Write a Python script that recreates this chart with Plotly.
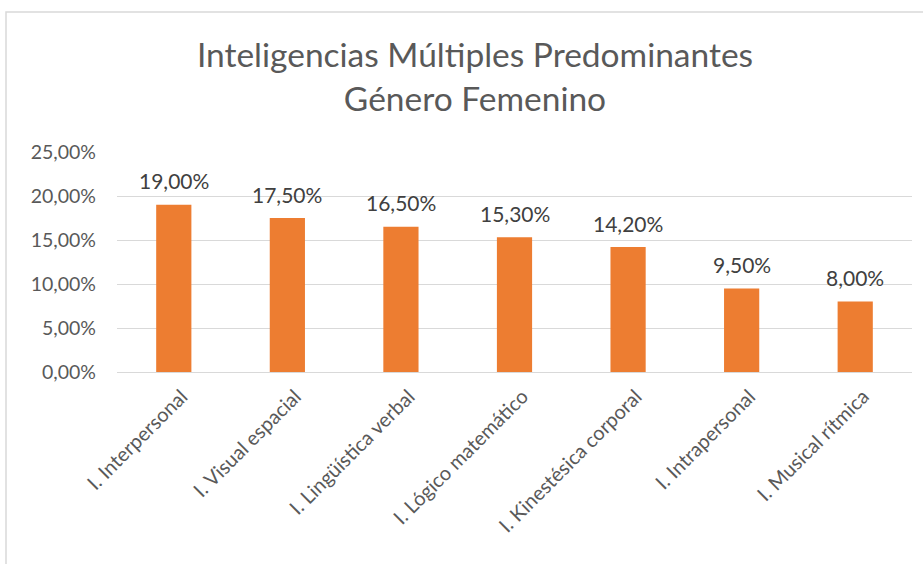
import plotly.graph_objects as go

categories = ["I. Interpersonal", "I. Visual espacial", "I. Lingüística verbal",
              "I. Lógico matemático", "I. Kinestésica corporal", "I. Intrapersonal",
              "I. Musical rítmica"]
values = [0.19, 0.175, 0.165, 0.153, 0.142, 0.095, 0.08]
y_ticks = [0, 0.05, 0.10, 0.15, 0.20, 0.25]

def pct(v):
    return f"{v*100:.2f}%".replace(".", ",")

W, H = 923, 564
L, R, T, B = 117, 11, 152, 192
FONT = "Lato, Open Sans, sans-serif"

fig = go.Figure(go.Bar(
    x=categories, y=values,
    marker=dict(color="#ED7D31", line=dict(width=0)),
    cliponaxis=False, width=0.31, hoverinfo="x+y",
))

annotations = [dict(x=c, y=v, xref="x", yref="y", text=pct(v), showarrow=False,
                    yanchor="middle", yshift=24,
                    font=dict(size=21, color="#404040", family=FONT))
               for c, v in zip(categories, values)]

pw = W - L - R
ph = H - T - B
def px_x(x): return (x - L) / pw
def px_y(y): return (H - B - y) / ph

fig.update_layout(
    width=W, height=H,
    margin=dict(l=L, r=R, t=T, b=B, autoexpand=False),
    paper_bgcolor="white", plot_bgcolor="white",
    font=dict(family=FONT, color="#595959"),
    title=dict(text="Inteligencias Múltiples Predominantes<br>Género Femenino",
               x=475 / W, xanchor="center", y=1 - 67 / H, yanchor="top",
               font=dict(size=33.5, color="#595959", family=FONT)),
    showlegend=False,
    xaxis=dict(tickangle=-45, tickfont=dict(size=20, color="#595959"),
               showline=True, linecolor="#d9d9d9", showgrid=False, ticks="",
               automargin=False, ticklabelshift=8, ticklabelstandoff=4),
    yaxis=dict(range=[0, 0.25], tickvals=y_ticks, ticktext=[pct(v) for v in y_ticks],
               tickfont=dict(size=19.5, color="#595959"), showgrid=True,
               gridcolor="#d9d9d9", gridwidth=1, zeroline=False, showline=False,
               ticklabelstandoff=20, automargin=False),
    annotations=annotations,
    shapes=[dict(type="rect", xref="paper", yref="paper",
                 x0=px_x(6), x1=px_x(940), y0=px_y(12), y1=px_y(590),
                 line=dict(color="#d9d9d9", width=1.5), layer="below")],
)

fig.write_html("out.html", config={"displayModeBar": False},
               post_script="document.body.style.margin='0';")
